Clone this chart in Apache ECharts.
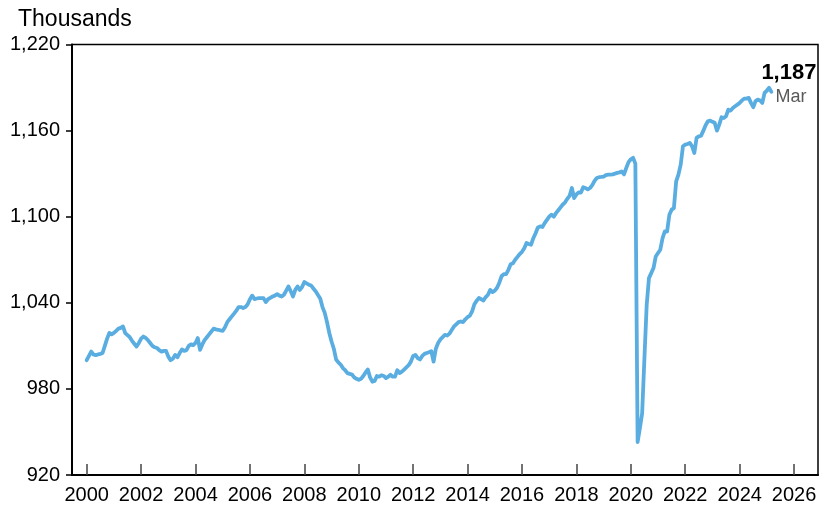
<!DOCTYPE html>
<html>
<head>
<meta charset="utf-8">
<script src="https://cdn.jsdelivr.net/npm/echarts@6/dist/echarts.min.js"></script>
<style>
  html, body { margin: 0; padding: 0; background: #fff; }
  #chart { width: 830px; height: 508px; }
</style>
</head>
<body>
<div id="chart"></div>
<script>
// Monthly employment, thousands, starting January 2000
const startYear = 2000;

const values2000to2004 = [
  1000, 1003, 1006, 1004, 1003.5, 1004, 1004.4, 1005, 1010, 1015, 1019, 1018,
  1019, 1020.5, 1022, 1022.5, 1023.5, 1018.9, 1017.5, 1016, 1013.5, 1011.5, 1009.5, 1012,
  1015, 1016.5, 1015.5, 1014, 1012, 1010, 1009, 1008.5, 1007, 1006, 1006.5, 1006.5,
  1002.5, 1000, 1001, 1003.7, 1002, 1005, 1007.5, 1006.5, 1007, 1010, 1011, 1010.5,
  1012, 1015.4, 1007.2, 1011, 1014, 1016, 1018, 1020, 1022, 1021.5, 1021.2, 1020.8
];
const values2005to2009 = [
  1020.5, 1023, 1026.5, 1028.5, 1030.5, 1032.5, 1034.5, 1037, 1037, 1036.3, 1037, 1039,
  1042.5, 1045, 1042.6, 1043, 1043.3, 1043.3, 1043.3, 1040.5, 1042.5, 1043.5, 1044.4, 1045,
  1046, 1045, 1044.4, 1045.6, 1048.5, 1051.4, 1048, 1044.4, 1049, 1051.4, 1049, 1051,
  1054.5, 1053.5, 1052.6, 1052, 1050, 1048, 1045.5, 1043, 1037, 1033, 1026.5, 1019,
  1013, 1008, 1000.5, 998.5, 997, 994.5, 993, 991, 990.5, 990, 988, 987
];
const values2010to2014 = [
  986.3, 987, 989, 991.5, 993.5, 988, 985, 985.5, 989, 988.5, 989.5, 989,
  987.5, 988.5, 989.8, 988.5, 988.6, 993, 991, 992, 993.5, 995, 996.5, 999,
  1003, 1003.7, 1001.5, 1000.5, 1003, 1004.4, 1005, 1005.5, 1006.3, 999, 1008, 1012,
  1014.5, 1016, 1017.7, 1017.2, 1018.5, 1021, 1023.5, 1025, 1026.5, 1027, 1026.5, 1028.5,
  1030, 1031, 1034, 1039, 1041.5, 1043.3, 1042.5, 1041.6, 1044, 1045.6, 1049, 1047.5
];
const values2015to2019 = [
  1048.5, 1050.5, 1054, 1058.5, 1060, 1060, 1063, 1066.8, 1067.5, 1070, 1072, 1074,
  1075.5, 1078, 1081.7, 1081, 1080.5, 1085, 1088.5, 1092.5, 1093.2, 1092.8, 1095.5, 1097.8,
  1100, 1101.4, 1100, 1102.5, 1104.5, 1106.5, 1108.5, 1110, 1112.5, 1114.5, 1120, 1113,
  1115.5, 1117, 1116.8, 1120.5, 1120, 1119, 1120, 1122, 1125, 1127, 1127.5, 1127.7,
  1128, 1129, 1129.3, 1129.3, 1129.5, 1130, 1130.5, 1130.9, 1131.5, 1129.5, 1134, 1138
];
const values2020to2025 = [
  1140, 1141, 1137, 943, 952.6, 963, 1001.4, 1038.6, 1057.2, 1060.7, 1064.2, 1072.3,
  1074.7, 1077, 1085.1, 1089.7, 1089.7, 1101.4, 1104.9, 1106, 1124.6, 1129.3, 1136.3, 1149.1,
  1150.2, 1150.7, 1151.4, 1149.1, 1144.4, 1154.9, 1156, 1156.5, 1160, 1163.7, 1166.5, 1167,
  1166.1, 1165.4, 1160, 1164.2, 1169.3, 1168.8, 1170, 1174.6, 1173.9, 1175.8, 1177, 1178.1,
  1179.3, 1181, 1182.3, 1182.3, 1182.8, 1179.3, 1176.3, 1180.5, 1181.6, 1181, 1179.3, 1186.3,
  1187.9, 1189.8, 1187
];

const yearTicks = [2000, 2002, 2004, 2006, 2008, 2010, 2012, 2014, 2016, 2018, 2020, 2022, 2024, 2026];
const valueTicks = [920, 980, 1040, 1100, 1160, 1220];
const lastMonthName = 'Mar';
const unitLabel = 'Thousands';

const monthly = [].concat(values2000to2004, values2005to2009, values2010to2014,
                          values2015to2019, values2020to2025);
const points = monthly.map((v, i) => [startYear + i / 12, v]);

const fontFamily = '"Liberation Sans", Arial, Helvetica, sans-serif';
const fmt = v => Math.round(v).toLocaleString('en-US');

const chart = echarts.init(document.getElementById('chart'), null, { renderer: 'canvas' });
chart.setOption({
  animation: false,
  backgroundColor: '#fff',
  textStyle: { fontFamily },
  title: {
    text: unitLabel,
    left: 13,
    top: 3,
    textStyle: { fontFamily, fontSize: 23, fontWeight: 'normal', color: '#000' }
  },
  grid: {
    left: 72, right: 12, top: 44.5, bottom: 33,
    show: true, borderColor: '#000', borderWidth: 1.5, containLabel: false
  },
  xAxis: {
    type: 'value',
    min: 1999.46,
    max: 2026.88,
    axisLine: { show: true, onZero: false, lineStyle: { color: '#000', width: 2 } },
    axisTick: {
      show: true, inside: true, length: 11,
      customValues: yearTicks,
      lineStyle: { color: '#444', width: 1.5 }
    },
    axisLabel: {
      customValues: yearTicks,
      fontFamily, fontSize: 20, color: '#000', margin: 10,
      formatter: v => String(Math.round(v))
    },
    splitLine: { show: false }
  },
  yAxis: {
    type: 'value',
    min: 920,
    max: 1220,
    axisLine: { show: true, lineStyle: { color: '#000', width: 2 } },
    axisTick: {
      show: true, inside: false, length: 6,
      customValues: valueTicks,
      lineStyle: { color: '#000', width: 1.5 }
    },
    axisLabel: {
      customValues: valueTicks,
      fontFamily, fontSize: 20, color: '#000', margin: 12,
      formatter: v => fmt(v)
    },
    splitLine: { show: false }
  },
  series: [{
    type: 'line',
    data: points,
    showSymbol: false,
    symbol: 'none',
    lineStyle: { color: '#5aade0', width: 3.8, join: 'round', cap: 'round' },
    endLabel: {
      show: true,
      distance: 0,
      offset: [-10, -8],
      align: 'left',
      verticalAlign: 'middle',
      formatter: p => '{v|' + fmt(p.value[1]) + '}\n{m|' + lastMonthName + '}',
      rich: {
        v: { fontFamily, fontSize: 22, fontWeight: 'bold', color: '#000', lineHeight: 26 },
        m: { fontFamily, fontSize: 18, color: '#595959', lineHeight: 22, padding: [0, 0, 0, 14] }
      }
    }
  }]
});
</script>
</body>
</html>
